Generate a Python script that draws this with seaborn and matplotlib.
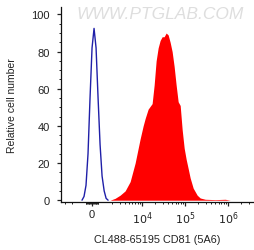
import numpy as np
import pandas as pd
import matplotlib
matplotlib.use('Agg')
import matplotlib.pyplot as plt
import seaborn as sns
from matplotlib.ticker import SymmetricalLogLocator, MultipleLocator

# Isotype / unstained control (blue line)
ctrl_x = [-1180, -1060, -870, -580, -290, 0, 290, 580, 870, 1060, 1180, 1320, 1465, 1630]
ctrl_y = [0, 2, 8, 25, 55, 82, 92.5, 82, 55, 30, 13, 5, 1, 0]

# CD81 stained sample (red filled)
cd81_x = [1815, 2370, 3100, 4050, 5300, 6920, 9040, 10620, 11830, 13870, 17180,
          19140, 21290, 23710, 26370, 29380, 32660, 36390, 40460, 45080, 50120,
          55800, 62100, 69180, 77090, 85700, 95500, 106200, 118300, 131500,
          154500, 191400, 224900, 293800, 501000, 857000, 1120000]
cd81_y = [0, 1, 2.7, 5, 10, 20, 33, 40, 44, 49, 52,
          62, 75, 82, 86, 88, 88, 90, 89, 85, 80,
          72, 62, 53, 51, 38, 28, 22, 17, 12,
          6.5, 2.7, 1.2, 0.5, 0.3, 0.5, 0]

xticks = [0, 1e4, 1e5, 1e6]
xticklabels = ['0', '$10^4$', '$10^5$', '$10^6$']
yticks = [0, 20, 40, 60, 80, 100]

sns.set_style('ticks')
plt.rcParams['font.family'] = ['Liberation Sans', 'DejaVu Sans']

fig = plt.figure(figsize=(2.54, 2.51), dpi=100)
ax = fig.add_axes([0.240, 0.191, 0.76, 0.777])

ax.set_xscale('symlog', linthresh=1000, linscale=0.145)

ax.fill_between(cd81_x, cd81_y, 0, color='#ff0000', linewidth=0)
ctrl = pd.DataFrame({'x': ctrl_x, 'y': ctrl_y})
sns.lineplot(data=ctrl, x='x', y='y', ax=ax, color='#1f1fa8', linewidth=1.0,
             sort=False, estimator=None)

ax.set_xlim(-3640, 4.0e6)
ax.set_ylim(-1, 104)

ax.set_xticks(xticks)
ax.set_xticklabels(xticklabels)
ax.xaxis.set_minor_locator(SymmetricalLogLocator(linthresh=1000, base=10,
                                                 subs=np.arange(2, 10)))
ax.set_yticks(yticks)
ax.yaxis.set_minor_locator(MultipleLocator(5))

ax.tick_params(axis='both', which='major', length=3, width=0.9, labelsize=8,
               colors='#222222')
ax.tick_params(axis='y', which='major', pad=5)
ax.tick_params(axis='x', which='major', pad=2)
ax.tick_params(axis='both', which='minor', length=1.6, width=0.7, colors='#222222')

ax.set_xlabel('CL488-65195 CD81 (5A6)', fontsize=7.8, color='#222222', labelpad=6)
ax.set_ylabel('Relative cell number', fontsize=7.5, color='#222222', labelpad=10)

for s in ['top', 'right']:
    ax.spines[s].set_visible(False)
for s in ['left', 'bottom']:
    ax.spines[s].set_linewidth(0.9)
    ax.spines[s].set_color('#111111')

ax.text(0.515, 0.965, 'WWW.PTGLAB.COM', transform=ax.transAxes, ha='center',
        va='center', fontsize=12.5, color='#dedede', style='italic')

fig.savefig('out.png', dpi=100)
